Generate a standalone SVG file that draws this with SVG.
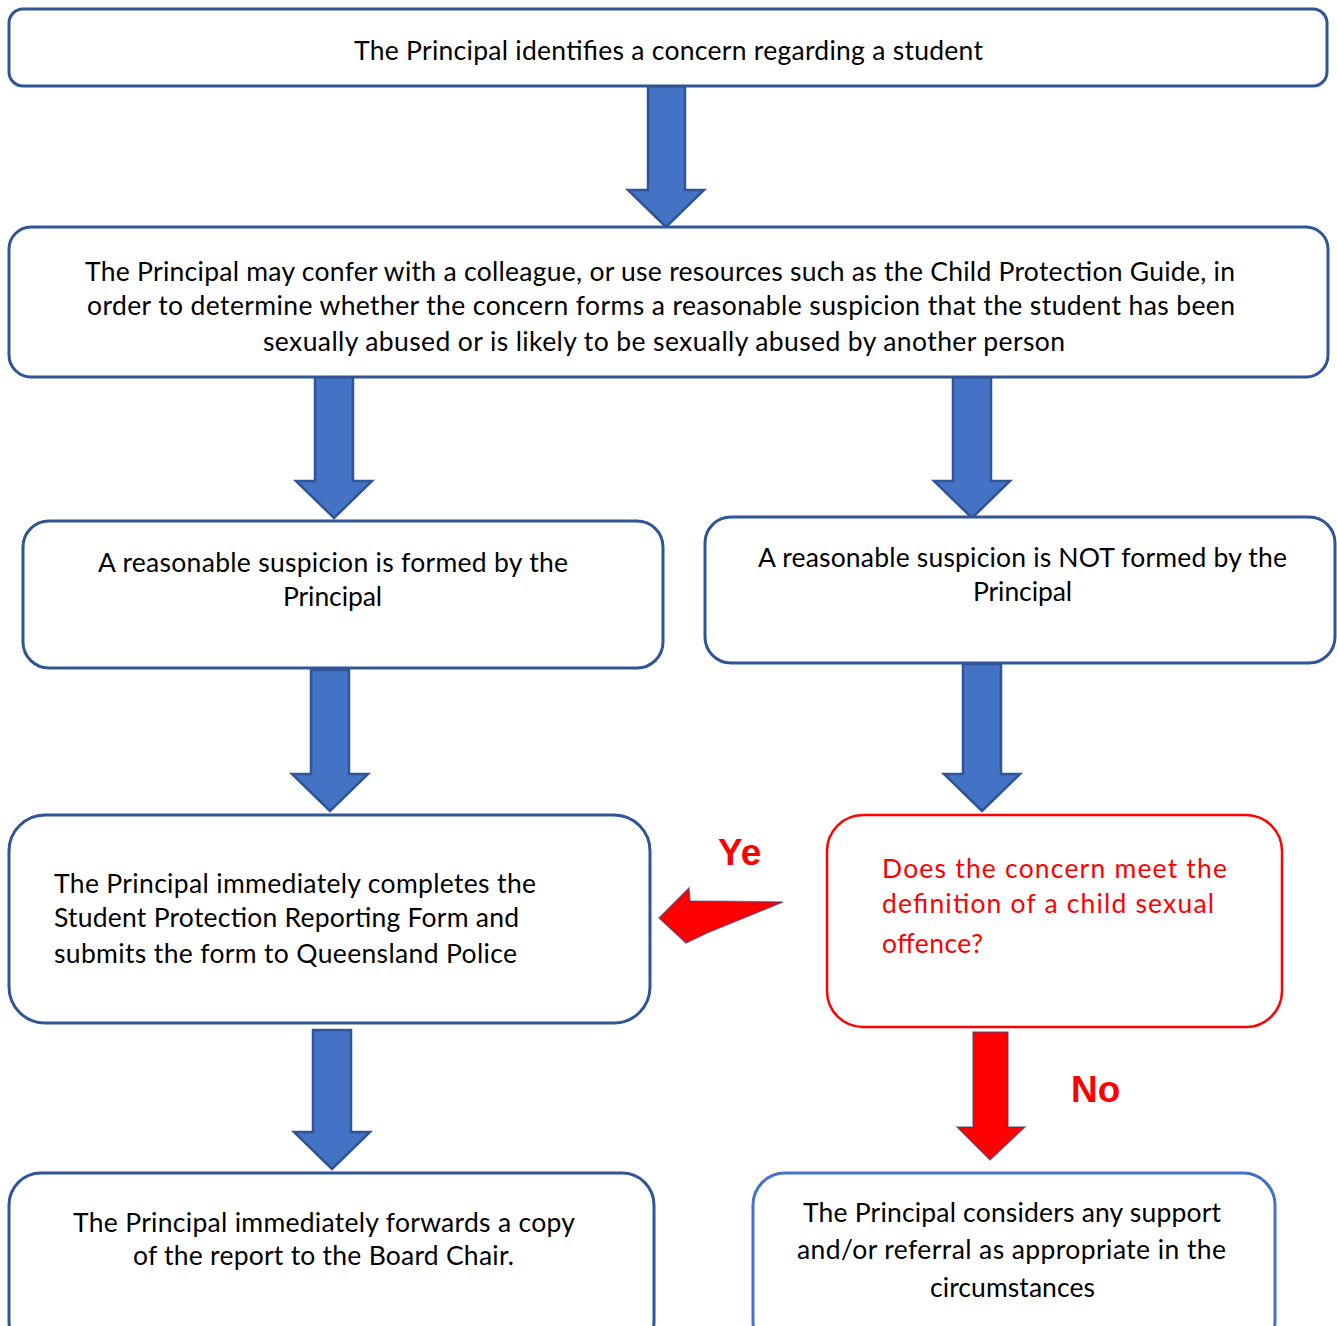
<svg xmlns="http://www.w3.org/2000/svg" width="1337" height="1326" viewBox="0 0 1337 1326">
<style>
.box{fill:#fff;stroke:#2F5597;stroke-width:3}
.boxl{fill:#fff;stroke:#4472C4;stroke-width:3}
.rbox{fill:#fff;stroke:#FF0000;stroke-width:2.5}
.t{font-family:Lato,"Open Sans","Liberation Sans",sans-serif;font-size:26.5px;fill:#000}
.rt{font-family:Lato,"Open Sans","Liberation Sans",sans-serif;font-size:26.5px;fill:#FF0000}
.lbl{font-family:"Liberation Sans",Arial,sans-serif;font-weight:bold;font-size:37px;fill:#FF0000}
.arr{fill:#4472C4;stroke:#2F5597;stroke-width:2.5;stroke-linejoin:miter}
.rarr{fill:#FF0000;stroke:#2F3F7F;stroke-width:1.5;stroke-opacity:0.6}
</style>
<rect width="1337" height="1326" fill="#fff"/>
<g id="connectors">
<path class="arr" d="M648,86 L685,86 L685,190 L704,190 L666,227 L628,190 L648,190 Z"/>
<path class="arr" d="M315,377 L353,377 L353,481 L372,481 L334,518 L296,481 L315,481 Z"/>
<path class="arr" d="M953,377 L991,377 L991,481 L1010,481 L972,518 L934,481 L953,481 Z"/>
<path class="arr" d="M311,670 L349,670 L349,774 L368,774 L330,811 L292,774 L311,774 Z"/>
<path class="arr" d="M963,664 L1001,664 L1001,774 L1020,774 L982,811 L944,774 L963,774 Z"/>
<path class="arr" d="M313,1030 L351,1030 L351,1132 L370,1132 L332,1169 L294,1132 L313,1132 Z"/>
<path class="rarr" d="M973,1032 L1008,1032 L1008,1127 L1025,1127 L990,1160 L957,1127 L973,1127 Z"/>
<path class="rarr" d="M659,918 L689,888 L690,901 L783,902 L707,933 L686,943 Z"/>
<text class="lbl" x="718" y="865">Ye</text>
<text class="lbl" x="1071" y="1102">No</text>
</g>
<g id="n1">
<rect class="box" x="9" y="9" width="1318" height="77" rx="14"/>
<text class="t" x="354" y="60" textLength="629">The Principal identifies a concern regarding a student</text>
</g>
<g id="n2">
<rect class="box" x="9" y="227" width="1319" height="150" rx="22"/>
<text class="t" x="85" y="281" textLength="1150">The Principal may confer with a colleague, or use resources such as the Child Protection Guide, in</text>
<text class="t" x="87" y="315" textLength="1148">order to determine whether the concern forms a reasonable suspicion that the student has been</text>
<text class="t" x="263" y="351" textLength="802">sexually abused or is likely to be sexually abused by another person</text>
</g>
<g id="n3">
<rect class="box" x="23" y="521" width="640" height="147" rx="26"/>
<text class="t" x="98" y="572" textLength="470">A reasonable suspicion is formed by the</text>
<text class="t" x="283" y="606" textLength="99">Principal</text>
</g>
<g id="n4">
<rect class="box" x="705" y="517" width="630" height="146" rx="26"/>
<text class="t" x="758" y="567" textLength="529">A reasonable suspicion is NOT formed by the</text>
<text class="t" x="973" y="601" textLength="99">Principal</text>
</g>
<g id="n5">
<rect class="box" x="9" y="815" width="641" height="208" rx="36"/>
<text class="t" x="54" y="893" textLength="482">The Principal immediately completes the</text>
<text class="t" x="54" y="927" textLength="465">Student Protection Reporting Form and</text>
<text class="t" x="54" y="963" textLength="463">submits the form to Queensland Police</text>
</g>
<g id="n6">
<rect class="rbox" x="827" y="815" width="455" height="212" rx="36"/>
<text class="rt" x="882" y="878" textLength="345">Does the concern meet the</text>
<text class="rt" x="882" y="913" textLength="332">definition of a child sexual</text>
<text class="rt" x="882" y="953" textLength="101">offence?</text>
</g>
<g id="n7">
<rect class="box" x="9" y="1173" width="645" height="180" rx="32"/>
<text class="t" x="73" y="1232" textLength="502">The Principal immediately forwards a copy</text>
<text class="t" x="133" y="1265" textLength="381">of the report to the Board Chair.</text>
</g>
<g id="n8">
<rect class="boxl" x="753" y="1173" width="522" height="180" rx="32"/>
<text class="t" x="803" y="1222" textLength="418">The Principal considers any support</text>
<text class="t" x="797" y="1259" textLength="429">and/or referral as appropriate in the</text>
<text class="t" x="930" y="1297" textLength="165">circumstances</text>
</g>
</svg>
